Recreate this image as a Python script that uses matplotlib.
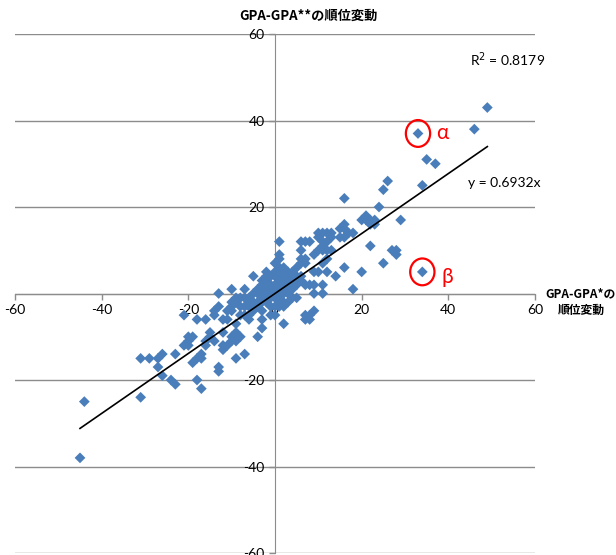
import numpy as np
import matplotlib.pyplot as plt
from matplotlib.patches import Ellipse

plt.rcParams['font.family'] = ['Lato', 'Noto Sans CJK JP', 'DejaVu Sans']
plt.rcParams['axes.unicode_minus'] = False

# rank change pairs (GPA-GPA*, GPA-GPA**)
x = [-45, -44, -31, -31, -29, -27, -26, -27, -26, -24, -23, -23, -21, -20, -20, -19,
     -20, -19, -18, -18, -17, -21, -18, -16, -14, -13, -10, -10, -9, -11, -9, -9,
     -15, -15, -14, -12, -12, -11, -10, -10, -9, -16, -16, -17, -17, -13, -13, -9,
     -13, -10, -14, -12, -8, -7, -6, -5, -4, -2, -1, 0, 2, -3, -4, -8,
     -12, -7, 7, 7, 8, 8, 9, 2, 4, 5, -6, -6, -1, -3, -5, 1,
     0, 16, 24, 25, 26, 21, 21, 22, 23, 23, 22, 27, 28, 28, 25, 20,
     18, 16, 14, 16, 15, 16, 18, 17, 10, 11, 12, 13, 11, 11, 11, 10,
     9, 12, 13, 12, 11, 12, 10, 9, 6, 7, 8, 6, 6, 7, 7, 6,
     5, 4, 5, 5, 7, 9, 11, 9, 11, 1, 1, 1, 0, 1, 2, -5,
     -3, -2, -1, -3, -4, -8, -9, -7, -10, 2, 1, 16, 29, 13, 49, 46,
     33, 35, 37, 34, 34, -4, -3, -2, -1, 0, 1, 2, 3, -1, 0, 1,
     2, 3, -2, -3, 0, 1, -1, 2, 3, 4, -5, -6, -2, 0, -4, -5,
     -3, -6, -8, 3, 4, 5, 6, 3, 2, -1, -7, 15, 22, 20, 10, 12,
     3, 4, -2, 0, 1, -3, 6, 8, 3, -7, -11]
y = [-38, -25, -24, -15, -15, -15, -14, -17, -19, -20, -21, -14, -12, -11, -10, -10,
     -12, -16, -15, -20, -22, -5, -6, -6, -5, -3, -4, -3, -2, -6, -7, -9,
     -9, -10, -11, -12, -13, -12, -11, -10, -11, -11, -12, -14, -15, -17, -18, -15,
     0, 1, -4, -6, -5, -5, -3, -3, -2, -2, -3, -5, -7, -8, -10, -10,
     -9, -14, -5, -6, -5, -6, -4, -2, -1, -1, -6, -5, -5, -6, -4, -2,
     -3, 22, 20, 24, 26, 18, 17, 17, 16, 17, 11, 10, 10, 9, 7, 5,
     1, 6, 4, 16, 13, 13, 14, 14, 14, 14, 14, 14, 12, 11, 10, 10,
     9, 10, 10, 8, 7, 5, 5, 5, 12, 12, 12, 10, 8, 8, 7, 7,
     6, 5, 4, 2, 2, 2, 2, 0, 0, 12, 8, 6, 5, 5, 4, 4,
     3, 3, 2, 2, 0, -1, -1, -1, -2, -3, -3, 15, 17, 13, 43, 38,
     37, 31, 30, 25, 5, 1, 0, 1, 0, 0, 1, 2, 3, -1, 2, 3,
     0, 1, -1, -2, -1, -1, 1, 3, 2, 3, 0, -1, 4, 4, -3, -2,
     -4, -2, -3, 0, 2, 3, 4, 5, 6, 4, -3, 15, 16, 17, 13, 12,
     -2, 1, 5, 7, 9, -1, 3, 2, 4, 1, -4]

slope = 0.6932
r2 = 0.8179
fit_x = np.array([-45, 49])

ticks = [-60, -40, -20, 0, 20, 40, 60]

fig = plt.figure(figsize=(6.16, 5.55), dpi=100)
ax = fig.add_axes([15 / 616, 2 / 555, 520 / 616, 519 / 555])
ax.set_xlim(-60, 60)
ax.set_ylim(-60, 60)
ax.set_xticks(ticks)
ax.set_yticks(ticks)

gray = '#8c8c8c'
for t in ticks:
    ax.axhline(t, color=gray, lw=1, zorder=0)

for side in ['top', 'right']:
    ax.spines[side].set_visible(False)
ax.spines['left'].set_position('zero')
ax.spines['bottom'].set_position('zero')
ax.spines['left'].set_color(gray)
ax.spines['bottom'].set_color(gray)
ax.tick_params(colors=gray, labelcolor='black', labelsize=10, length=4, width=1)

ax.scatter(x, y, marker='D', s=30, color='#4a7ebb', edgecolors='none', zorder=3)
ax.plot(fit_x, slope * fit_x, color='black', lw=1.2, zorder=4)

ax.text(45, 54, 'R$^2$ = %.4f' % r2, fontsize=10, ha='left', va='center')
ax.text(44.5, 25.6, 'y = %.4fx' % slope, fontsize=10, ha='left', va='center')

# highlighted students
ax.add_patch(Ellipse((33, 37), 5.6, 6.2, fill=False, ec='red', lw=1.6, zorder=5))
ax.text(38.5, 37, 'α', color='red', fontsize=15, ha='center', va='center')
ax.add_patch(Ellipse((34, 5), 5.6, 6.2, fill=False, ec='red', lw=1.6, zorder=5))
ax.text(39.8, 3.8, 'β', color='red', fontsize=15, ha='center', va='center')

fig.text(0.5, 0.971, 'GPA-GPA**の順位変動', fontsize=9.5, fontweight='bold',
         ha='center', va='center', family=['Noto Sans CJK JP', 'DejaVu Sans'])
fig.text(0.943, 0.455, 'GPA-GPA*の\n順位変動', fontsize=8.5, fontweight='bold',
         ha='center', va='center', linespacing=1.35,
         family=['Noto Sans CJK JP', 'DejaVu Sans'])

fig.savefig('out.png', dpi=100)
